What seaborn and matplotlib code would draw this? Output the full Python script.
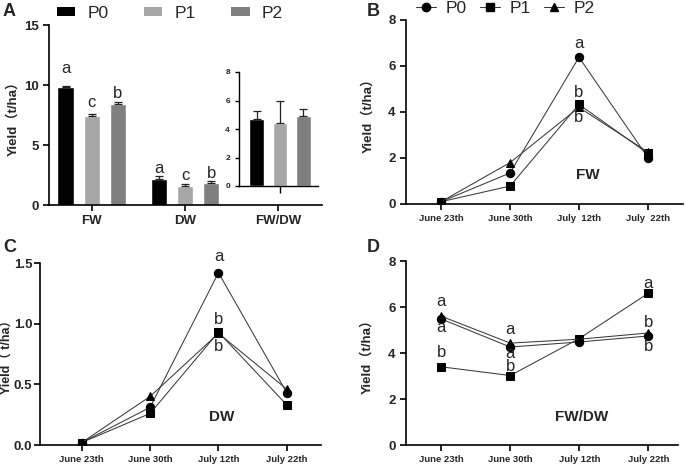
import numpy as np
import pandas as pd
import matplotlib.pyplot as plt
import seaborn as sns
from matplotlib.lines import Line2D
from matplotlib.patches import Patch
from matplotlib.container import BarContainer

sns.set_theme(style="ticks")
plt.rcParams['font.family'] = ['Liberation Sans', 'Noto Sans CJK SC', 'DejaVu Sans']

# ---- data ----
treatments = ['P0', 'P1', 'P2']
bar_colors = ['#000000', '#a6a6a6', '#7f7f7f']
markers = ['o', 's', '^']

traits = ['FW', 'DW', 'FW/DW']
fw_mean = [9.85, 7.4, 8.4]
fw_err = [0.1, 0.15, 0.2]
fw_letters = ['a', 'c', 'b']
dw_mean = [2.2, 1.55, 1.8]
dw_err = [0.25, 0.2, 0.2]
dw_letters = ['a', 'c', 'b']
ratio_mean = [4.7, 4.4, 4.9]
ratio_err = [0.55, 1.6, 0.52]

dates_b = ['June 23th', 'June 30th', 'July  12th', 'July  22th']
dates_cd = ['June 23th', 'June 30th', 'July 12th', 'July 22th']

fw_p0 = [0.1, 1.35, 6.38, 2.02]
fw_p1 = [0.1, 0.78, 4.33, 2.2]
fw_p2 = [0.1, 1.8, 4.2, 2.26]

dw_p0 = [0.02, 0.31, 1.42, 0.43]
dw_p1 = [0.02, 0.26, 0.93, 0.33]
dw_p2 = [0.02, 0.40, 0.92, 0.46]

ratio_p0 = [5.48, 4.26, 4.48, 4.74]
ratio_p1 = [3.4, 3.02, 4.63, 6.6]
ratio_p2 = [5.6, 4.43, 4.6, 4.87]

# significance letters: (treatment, date index, letter, offset px)
fw_sig = [('P0', 2, 'a', 14), ('P1', 2, 'b', 12), ('P2', 2, 'b', -10)]
dw_sig = [('P0', 2, 'a', 16), ('P1', 2, 'b', 13), ('P2', 2, 'b', -13)]
ratio_sig = [('P2', 0, 'a', 15), ('P0', 0, 'a', -9), ('P1', 0, 'b', 14),
             ('P2', 1, 'a', 14), ('P0', 1, 'a', -6), ('P1', 1, 'b', 9),
             ('P1', 3, 'a', 10), ('P2', 3, 'b', 10), ('P0', 3, 'b', -11)]

W, H = 685, 467
fig = plt.figure(figsize=(W / 100, H / 100), dpi=100)


def box(left, top, right, bottom):
    return [left / W, 1 - bottom / H, (right - left) / W, (bottom - top) / H]


def style_axes(ax, lw=1.2):
    sns.despine(ax=ax)
    for s in ['left', 'bottom']:
        ax.spines[s].set_linewidth(lw)
        ax.spines[s].set_color('black')
    ax.tick_params(axis='both', length=4, width=lw, color='black', direction='out')
    ax.grid(False)
    ax.set_facecolor('none')


# ---- panel A ----
axA = fig.add_axes(box(49, 25, 322, 205))
df_bar = pd.DataFrame({
    'trait': ['FW'] * 3 + ['DW'] * 3,
    'treat': treatments * 2,
    'value': fw_mean + dw_mean,
})
sns.barplot(data=df_bar, x='trait', y='value', hue='treat', order=traits,
            hue_order=treatments, palette=bar_colors, width=0.84, gap=0.36,
            saturation=1, errorbar=None, legend=False, ax=axA)
err_lookup = {('FW', t): (m, e, l) for t, m, e, l in zip(treatments, fw_mean, fw_err, fw_letters)}
err_lookup.update({('DW', t): (m, e, l) for t, m, e, l in zip(treatments, dw_mean, dw_err, dw_letters)})
letter_gap = {('FW', 'P0'): 13, ('FW', 'P1'): 7, ('FW', 'P2'): 4,
              ('DW', 'P0'): 3, ('DW', 'P1'): 4, ('DW', 'P2'): 3}
bar_containers = [c for c in axA.containers if isinstance(c, BarContainer)]
for h, cont in enumerate(bar_containers):
    for bar in cont:
        if bar is None or not np.isfinite(bar.get_height()) or bar.get_height() <= 0:
            continue
        xc = bar.get_x() + bar.get_width() / 2
        trait = traits[int(round(xc))]
        m, e, l = err_lookup[(trait, treatments[h])]
        axA.errorbar(xc, m, yerr=[[0], [e]], fmt='none', ecolor='#222222',
                     elinewidth=0.9, capsize=3, capthick=0.9)
        axA.annotate(l, (xc, m + e), xytext=(0, letter_gap[(trait, treatments[h])] * 0.72),
                     textcoords='offset points', ha='center', va='baseline', fontsize=12)
style_axes(axA)
axA.set_xlim(-0.46, 2.47)
axA.set_ylim(0, 15)
axA.set_yticks([0, 5, 10, 15])
axA.set_xlabel('')
axA.set_ylabel('Yield（t/ha）', fontsize=9.5, fontweight='bold')
axA.yaxis.set_label_coords(-0.11, 0.5)
for lab in axA.get_xticklabels() + axA.get_yticklabels():
    lab.set_fontweight('bold')
axA.tick_params(axis='x', labelsize=9.5)
axA.tick_params(axis='y', labelsize=9.5)

# inset FW/DW
axI = fig.add_axes(box(239, 72, 318, 186))
df_ratio = pd.DataFrame({'treat': treatments, 'value': ratio_mean})
sns.barplot(data=df_ratio, x='treat', y='value', hue='treat', order=treatments,
            hue_order=treatments, palette=bar_colors, width=0.65, saturation=1,
            errorbar=None, legend=False, ax=axI)
for i, (m, e) in enumerate(zip(ratio_mean, ratio_err)):
    axI.errorbar(i, m, yerr=[[0], [e]], fmt='none', ecolor='#222222',
                 elinewidth=0.9, capsize=3, capthick=0.9)
style_axes(axI, lw=1.0)
axI.set_xlim(-0.78, 2.65)
axI.set_ylim(0, 8)
axI.set_yticks([0, 2, 4, 6, 8])
axI.set_xticks([1])
axI.set_xticklabels([''])
axI.set_xlabel('')
axI.set_ylabel('')
axI.tick_params(axis='y', labelsize=6, length=3)
axI.tick_params(axis='x', length=5)
for lab in axI.get_yticklabels():
    lab.set_fontweight('bold')

bar_handles = [Patch(facecolor=c, edgecolor='none', label=t) for c, t in zip(bar_colors, treatments)]
fig.legend(handles=bar_handles, loc='center left', bbox_to_anchor=(57 / W, 1 - 13 / H),
           ncol=3, frameon=False, fontsize=12.5, handlelength=1.05, handleheight=0.45,
           handletextpad=0.7, columnspacing=2.05, borderpad=0, borderaxespad=0)


# ---- line panels ----
def line_panel(rect, dates, series, sig, ylim, yticks, xlim, ylabel, label_x, tag, tag_xy):
    ax = fig.add_axes(rect)
    x = np.arange(len(dates))
    for t, vals, mk in zip(treatments, series, markers):
        sns.lineplot(x=x, y=vals, ax=ax, color='#3a3a3a', linewidth=0.75,
                     marker=mk, markersize=6 if mk != '^' else 5.5,
                     markeredgecolor='black', markerfacecolor='black', label=t, legend=False)
    vals_by = dict(zip(treatments, series))
    for t, i, l, dy in sig:
        ax.annotate(l, (x[i], vals_by[t][i]), xytext=(0, dy * 0.72), textcoords='offset points',
                    ha='center', va='center', fontsize=12)
    ax.text(tag_xy[0], tag_xy[1], tag, ha='center', va='center', fontsize=11, fontweight='bold')
    style_axes(ax)
    ax.set_xlim(*xlim)
    ax.set_ylim(*ylim)
    ax.set_yticks(yticks)
    ax.set_xticks(x)
    ax.set_xticklabels(dates)
    ax.set_ylabel(ylabel, fontsize=9.5, fontweight='bold')
    ax.yaxis.set_label_coords(label_x, 0.5)
    ax.tick_params(axis='x', labelsize=6.8)
    ax.tick_params(axis='y', labelsize=9.5)
    for lab in ax.get_xticklabels() + ax.get_yticklabels():
        lab.set_fontweight('bold')
    return ax


axB = line_panel(box(406, 20, 683, 204), dates_b, [fw_p0, fw_p1, fw_p2], fw_sig,
                 (0, 8), [0, 2, 4, 6, 8], (-0.51, 3.51), 'Yield（t/ha）', -0.115, 'FW', (2.13, 1.26))
axC = line_panel(box(40, 263, 321, 445), dates_cd, [dw_p0, dw_p1, dw_p2], dw_sig,
                 (0, 1.5), [0.0, 0.5, 1.0, 1.5], (-0.61, 3.5), 'Yield（ t/ha）', -0.095, 'DW', (2.05, 0.23))
axC.set_yticklabels(['0.0', '0.5', '1.0', '1.5'], fontweight='bold')
axC.tick_params(axis='y', pad=1.5)
axC.yaxis.label.set_fontsize(9)
axD = line_panel(box(406, 261, 678, 445), dates_cd, [ratio_p0, ratio_p1, ratio_p2], ratio_sig,
                 (0, 8), [0, 2, 4, 6, 8], (-0.51, 3.43), 'Yield（t/ha）', -0.118, 'FW/DW', (2.04, 1.2))

line_handles = [Line2D([0], [0], color='#3a3a3a', lw=0.75, marker=mk, markersize=6 if mk != '^' else 5.5,
                       markerfacecolor='black', markeredgecolor='black', label=t)
                for t, mk in zip(treatments, markers)]
fig.legend(handles=line_handles, loc='center left', bbox_to_anchor=(416 / W, 1 - 8 / H),
           ncol=3, frameon=False, fontsize=12.5, handlelength=1.15, handletextpad=0.57,
           columnspacing=0.75, borderpad=0, borderaxespad=0)

# panel tags
for tag, (px, py) in zip(['A', 'B', 'C', 'D'], [(3, 12), (367, 12), (3, 248), (367, 248)]):
    fig.text(px / W, 1 - py / H, tag, fontsize=13, fontweight='bold', ha='left', va='center')

fig.savefig('out.png', dpi=100)
